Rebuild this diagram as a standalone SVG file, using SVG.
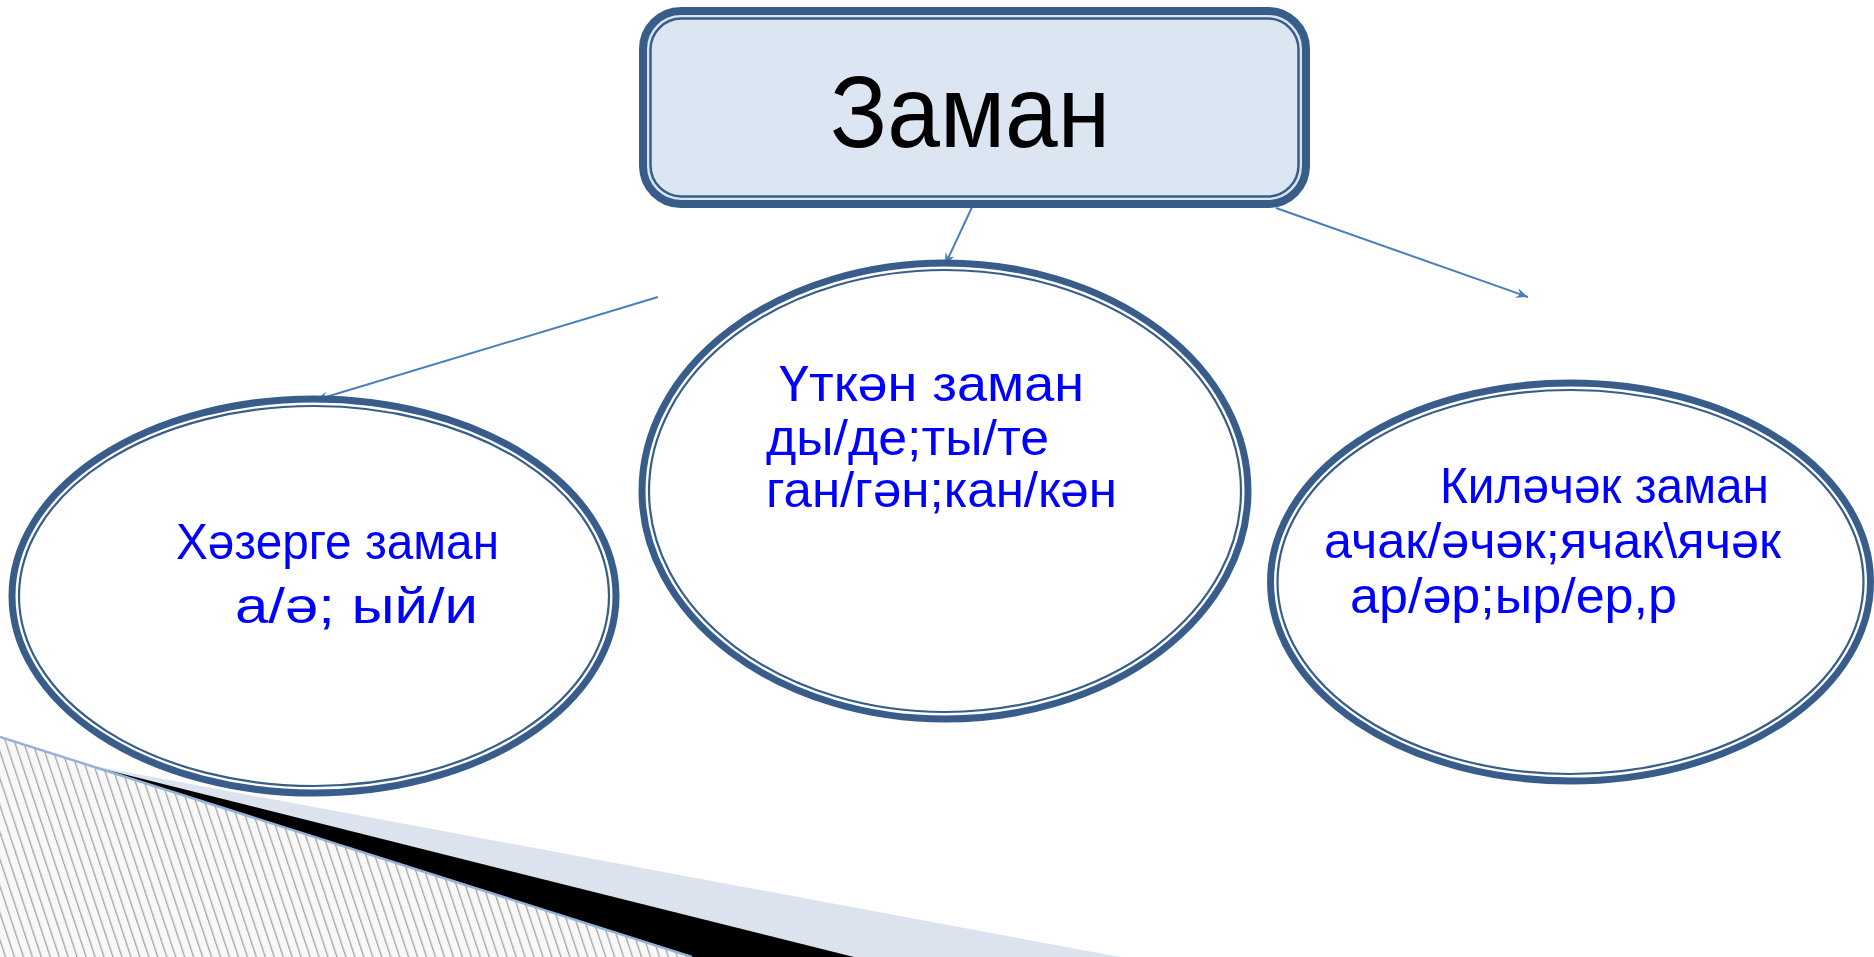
<svg xmlns="http://www.w3.org/2000/svg" width="1874" height="957" viewBox="0 0 1874 957">
<defs>
<style>
.outer{fill:none;stroke:#385d8a;stroke-width:7}
.inner{fill:none;stroke:#385d8a;stroke-width:2.2}
.lbl{font-family:"Liberation Sans",Arial,sans-serif;font-size:50px;fill:#0000ff}
.conn{stroke:#4a7ebb;stroke-width:2;fill:none;marker-end:url(#ah)}
</style>
<marker id="ah" viewBox="0 0 12 10" refX="12" refY="5" markerWidth="12" markerHeight="10" markerUnits="userSpaceOnUse" orient="auto">
<path d="M0,0 L12,5 L0,10 L4,5 z" fill="#4a7ebb"/>
</marker>
<pattern id="hatch" patternUnits="userSpaceOnUse" width="8.5" height="10" patternTransform="rotate(-18.4)">
<rect x="0" y="0" width="8.5" height="10" fill="#f8f8f8"/>
<rect x="0" y="0" width="1.3" height="10" fill="#a4a4a4"/>
</pattern>
</defs>
<rect width="1874" height="957" fill="#ffffff"/>
<g id="decor">
<polygon points="83,764 1120,957 692,957" fill="#dce3ef"/>
<polygon points="83,764 854,957 692,957" fill="#000000"/>
<polygon points="0,737 692,957 0,957" fill="url(#hatch)"/>
<line x1="0" y1="737" x2="692" y2="957" stroke="#95b3d7" stroke-width="2.5"/>
</g>
<g id="connectors">
<line class="conn" x1="973" y1="205" x2="945" y2="265"/>
<line class="conn" x1="658" y1="297" x2="316" y2="400"/>
<line class="conn" x1="1276" y1="208" x2="1528" y2="297"/>
</g>
<g id="root">
<rect x="643" y="11" width="663" height="193" rx="38" fill="#dce6f2" stroke="#385d8a" stroke-width="8"/>
<rect x="650.5" y="18.5" width="648" height="178" rx="31" fill="none" stroke="#385d8a" stroke-width="2.5"/>
<text x="970" y="147" text-anchor="middle" textLength="280" lengthAdjust="spacingAndGlyphs" font-family="'Liberation Sans',Arial,sans-serif" font-size="102" fill="#000000">Заман</text>
</g>
<g id="present">
<ellipse cx="314" cy="596" rx="302" ry="197" fill="#ffffff" class="outer"/>
<ellipse cx="314" cy="596" rx="295" ry="190" class="inner"/>
<text class="lbl" x="176" y="559" font-size="49" textLength="323" lengthAdjust="spacingAndGlyphs">Хәзерге заман</text>
<text class="lbl" x="235" y="623" font-size="57" textLength="243" lengthAdjust="spacingAndGlyphs">а/ә; ый/и</text>
</g>
<g id="past">
<ellipse cx="945" cy="491" rx="303" ry="228" fill="#ffffff" class="outer"/>
<ellipse cx="945" cy="491" rx="296" ry="221" class="inner"/>
<text class="lbl" x="779" y="401" font-size="52" textLength="305" lengthAdjust="spacingAndGlyphs">Үткән заман</text>
<text class="lbl" x="766" y="455" font-size="52" textLength="283" lengthAdjust="spacingAndGlyphs">ды/де;ты/те</text>
<text class="lbl" x="766" y="507" font-size="52" textLength="351" lengthAdjust="spacingAndGlyphs">ган/гән;кан/кән</text>
</g>
<g id="future">
<ellipse cx="1570.5" cy="582" rx="300" ry="199" fill="#ffffff" class="outer"/>
<ellipse cx="1570.5" cy="582" rx="293" ry="192" class="inner"/>
<text class="lbl" x="1440" y="503" font-size="49" textLength="329" lengthAdjust="spacingAndGlyphs">Киләчәк заман</text>
<text class="lbl" x="1324" y="558" font-size="51" textLength="457" lengthAdjust="spacingAndGlyphs">ачак/әчәк;ячак\ячәк</text>
<text class="lbl" x="1350" y="613" font-size="52" textLength="327" lengthAdjust="spacingAndGlyphs">ар/әр;ыр/ер,р</text>
</g>
</svg>
